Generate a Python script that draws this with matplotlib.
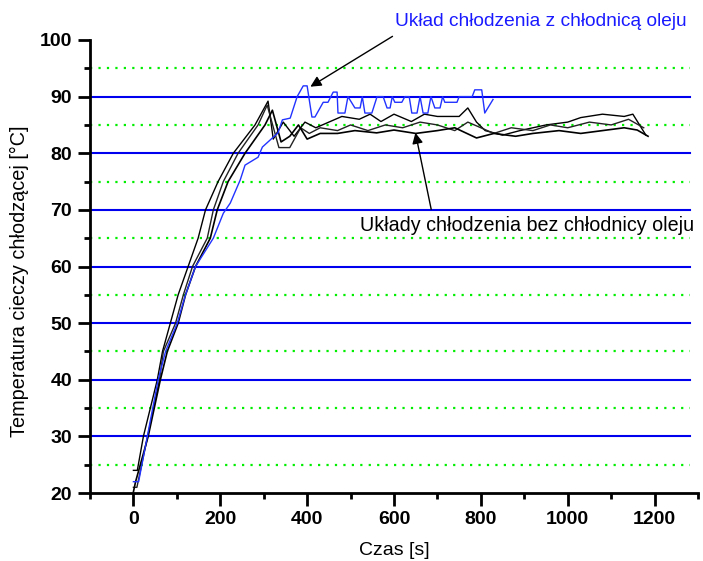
import matplotlib.pyplot as plt
import numpy as np
from matplotlib.ticker import MultipleLocator

plt.rcParams['font.family'] = ['Liberation Sans', 'DejaVu Sans']

# blue curve - cooling system with oil cooler
t_blue = [0, 12, 32, 57, 74, 101, 120, 143, 184, 207, 223, 246, 257, 287, 297, 320, 333, 343, 361,
          377, 391, 400, 411, 418, 437, 448, 460, 469, 471, 487, 494, 510, 522, 527, 533, 549, 561,
          575, 584, 591, 596, 602, 618, 625, 635, 641, 653, 660, 667, 678, 685, 694, 706, 712, 717,
          745, 750, 780, 786, 802, 809, 828]
T_blue = [22, 22, 30, 40, 45, 50, 55, 60, 65, 69.4, 71.2, 75.3, 77.9, 79.3, 81.1, 82.7, 83.6, 85.9, 86.2,
          90, 91.9, 91.9, 86.4, 86.4, 89, 89, 90.8, 90.8, 87.1, 87.1, 90, 88, 88, 90, 87.1, 87.1, 90,
          90, 88, 88, 90, 89, 89, 90, 90, 87.1, 87.1, 90, 87.1, 87.1, 90, 88, 88, 90, 89,
          89, 90, 90, 91.2, 91.2, 87.1, 89.5]

# black curves - cooling systems without oil cooler
t_a = [0, 9, 23, 55, 67, 85, 103, 126, 149, 166, 195, 230, 280, 310, 322, 345, 370, 395, 420, 450,
       480, 520, 545, 570, 600, 640, 670, 700, 750, 770, 790, 810, 850, 890, 950, 1000, 1030, 1080,
       1130, 1150, 1180]
T_a = [24, 24, 30, 40, 45, 50, 55, 60, 65, 70, 75, 80, 85, 89.2, 82.5, 85.5, 83, 85.5, 84.5, 85.5,
       86.5, 86, 86.9, 85.6, 86.9, 85.6, 86.9, 86.5, 86.5, 88, 85.5, 84, 83.2, 84, 85, 85.5, 86.3, 86.9,
       86.5, 86.9, 83.2]

t_b = [0, 8, 30, 60, 69, 97, 115, 136, 170, 184, 207, 241, 287, 308, 335, 360, 385, 405, 430, 470,
       500, 540, 580, 620, 660, 700, 740, 770, 800, 830, 870, 920, 960, 1000, 1050, 1100, 1140, 1175]
T_b = [21, 21, 29, 40, 45, 50, 55, 60, 65, 70, 75, 80, 85, 88.5, 81, 81, 84.5, 83.5, 84.5, 84,
       85, 84, 85, 84.5, 85.5, 85, 84, 85.5, 84.5, 83.5, 84.5, 84, 85, 84.5, 85.5, 85, 86, 84.5]

t_c = [0, 5, 34, 62, 78, 103, 120, 143, 177, 193, 218, 257, 303, 320, 340, 360, 380, 400, 430, 470,
       510, 560, 600, 650, 700, 740, 790, 830, 880, 920, 980, 1030, 1080, 1130, 1160, 1185]
T_c = [20.2, 22, 30, 40, 45, 50, 55, 60, 65, 70, 75, 80, 85, 87.6, 82, 83, 85, 82.5, 83.5, 83.5,
       84, 83.6, 84.1, 83.5, 84, 84.5, 82.7, 83.5, 83, 83.5, 84, 83.5, 84, 84.5, 84.1, 83]

major_levels = [30, 40, 50, 60, 70, 80, 90]
minor_levels = [25, 35, 45, 55, 65, 75, 85, 95]

fig = plt.figure(figsize=(7.03, 5.61), dpi=100)
ax = fig.add_axes([0.128, 0.1212, 0.8649, 0.8075])

for y in major_levels:
    ax.axhline(y, xmax=0.987, color='#0000ee', linewidth=1.5, zorder=1)
for y in minor_levels:
    ax.axhline(y, xmax=0.987, color='#00ee00', linewidth=1.6, linestyle=(0, (1, 2.8)), zorder=1)

ax.plot(t_a, T_a, color='black', linewidth=1.0, zorder=3)
ax.plot(t_b, T_b, color='#222222', linewidth=1.0, zorder=3)
ax.plot(t_c, T_c, color='black', linewidth=1.2, zorder=3)
ax.plot(t_blue, T_blue, color='#2233ff', linewidth=1.0, zorder=4)

ax.set_xlim(-100, 1300)
ax.set_ylim(20, 100)
ax.xaxis.set_major_locator(MultipleLocator(200))
ax.xaxis.set_minor_locator(MultipleLocator(100))
ax.yaxis.set_major_locator(MultipleLocator(10))
ax.yaxis.set_minor_locator(MultipleLocator(5))

for s in ['top', 'right']:
    ax.spines[s].set_visible(False)
for s in ['left', 'bottom']:
    ax.spines[s].set_linewidth(2)

ax.tick_params(which='major', direction='out', length=9, width=2, labelsize=14, pad=4)
ax.tick_params(which='minor', direction='out', length=4, width=2)
for lab in ax.get_xticklabels() + ax.get_yticklabels():
    lab.set_fontweight('bold')

ax.set_xlabel('Czas [s]', fontsize=14, labelpad=10)
ax.set_ylabel('Temperatura cieczy chłodzącej [°C]', fontsize=14.3)
ax.yaxis.set_label_coords(-0.1, 0.468)

ax.text(602, 103.2, 'Układ chłodzenia z chłodnicą oleju', color='#1a1aff', fontsize=13.8,
        va='center', ha='left', clip_on=False)
ax.annotate('', xy=(402, 91.5), xytext=(602, 100.9), annotation_clip=False,
            arrowprops=dict(arrowstyle='-|>', color='black', lw=1, mutation_scale=16))

ax.text(522, 67.3, 'Układy chłodzenia bez chłodnicy oleju', color='black', fontsize=14.2,
        va='center', ha='left', clip_on=False)
ax.annotate('', xy=(648, 84.1), xytext=(687, 69.6), annotation_clip=False,
            arrowprops=dict(arrowstyle='-|>', color='black', lw=1, mutation_scale=16))

fig.savefig('out.png', dpi=100)
